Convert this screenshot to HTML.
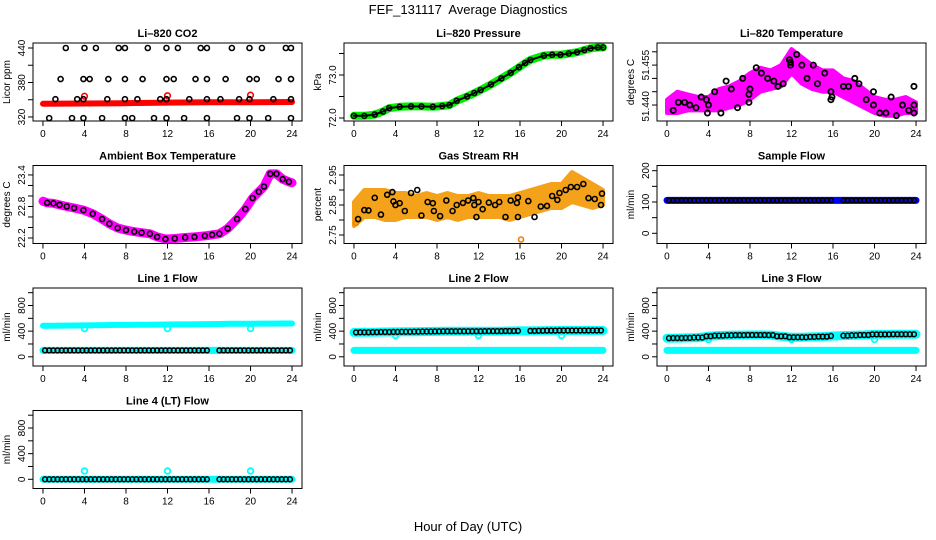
<!DOCTYPE html>
<html><head><meta charset="utf-8">
<style>
html,body{margin:0;padding:0;background:#fff;}
svg{display:block;font-family:"Liberation Sans",sans-serif;}
</style></head>
<body>
<svg id="chart" width="936" height="540" viewBox="0 0 936 540">
<text x="468" y="14" text-anchor="middle" font-size="13" style="white-space:pre">FEF_131117  Average Diagnostics</text>
<text x="468" y="531" text-anchor="middle" font-size="13">Hour of Day (UTC)</text>
</svg>
<script>
// ---------- data arrays ----------
const xTicks = [0,4,8,12,16,20,24];
// CO2
const co2Hi = [2.2,4,5.1,7.3,7.9,10.1,11.9,13,15.2,15.8,18.2,19.9,21.1,23.4,23.9];
const co2Mid = [1.7,3.9,4.5,6.3,7.9,9.6,11.9,12.6,14.7,15.8,17.6,19.9,20.6,22.7,23.9];
const co2Low = [1.2,3.3,3.9,6.2,7.9,9.1,11.3,11.9,14.1,15.8,17.1,18.9,19.9,22.2,23.9];
const co2Min = [0.6,2.8,3.9,5.7,7.9,8.6,10.7,11.9,13.6,15.8,18.7,19.9,21.7,23.9];
const co2Levels = [440,386,351,318];
const co2RedHours = [0,4,8,12,16,20,24];
const co2RedVals = [343,343.5,344,345,345.5,345.5,346];
const co2RedOutHours = [4,12,20];
const co2RedOutVals = [356,357,358];
// Pressure
const presHours = [0,1,2,2.8,3.4,4.4,5.5,6.5,7.6,8.5,9.2,9.9,10.9,11.6,12.2,13.2,14.2,15.1,15.9,16.5,17.0,18.3,19.1,19.9,20.7,21.5,22.2,22.8,23.5,24];
const presVals = [72.05,72.05,72.08,72.15,72.23,72.26,72.27,72.27,72.26,72.28,72.3,72.4,72.5,72.58,72.65,72.78,72.92,73.05,73.18,73.28,73.35,73.45,73.47,73.47,73.5,73.53,73.58,73.62,73.64,73.64];
// Li-820 temperature
const tempBandHours = [0,1,2,3,4,5,6,7,8,9,10,11,12,13,14,15,16,17,18,19,20,21,22,23,24];
const tempBandLo = [51.437,51.437,51.438,51.438,51.438,51.438,51.439,51.440,51.442,51.445,51.446,51.447,51.452,51.448,51.446,51.445,51.445,51.443,51.441,51.439,51.437,51.436,51.436,51.437,51.437];
const tempBandHi = [51.442,51.445,51.444,51.443,51.443,51.446,51.447,51.449,51.452,51.454,51.453,51.455,51.461,51.458,51.455,51.453,51.453,51.450,51.449,51.446,51.443,51.442,51.442,51.443,51.441];
const tempPtHours = [0.6,1.1,1.7,2.2,2.8,3.3,3.8,3.9,4.0,4.6,5.2,5.7,6.2,6.8,7.3,7.9,7.9,8.0,8.6,9.1,9.7,10.3,10.7,11.2,11.8,11.9,11.9,12.5,13.0,13.5,14.1,14.5,15.2,15.8,15.8,15.9,17.0,17.5,18.1,18.5,19.2,19.9,19.9,20.5,21.1,21.6,22.1,22.7,23.3,23.8,23.8,23.8];
const tempPtVals = [51.438,51.441,51.441,51.440,51.439,51.443,51.442,51.437,51.440,51.445,51.437,51.449,51.446,51.439,51.450,51.444,51.441,51.446,51.454,51.452,51.450,51.449,51.447,51.448,51.457,51.456,51.455,51.459,51.455,51.450,51.455,51.448,51.452,51.445,51.442,51.443,51.447,51.447,51.450,51.448,51.442,51.445,51.440,51.437,51.437,51.443,51.436,51.440,51.438,51.447,51.440,51.437];
// Ambient box temperature
const ambHours = [0,0.4,1.0,1.6,2.3,3.0,3.9,4.8,5.7,6.4,7.2,8.0,8.8,9.5,10.3,11.0,11.8,12.7,13.7,14.6,15.6,16.3,17.0,17.8,18.7,19.5,20.2,20.8,21.3,21.9,22.5,23.1,23.7,24];
const ambVals = [22.9,22.87,22.86,22.83,22.8,22.77,22.73,22.66,22.56,22.47,22.39,22.35,22.32,22.3,22.28,22.22,22.18,22.19,22.21,22.22,22.24,22.26,22.28,22.38,22.56,22.75,22.96,23.08,23.18,23.42,23.42,23.32,23.27,23.25];
// Gas stream RH
const rhBandHours = tempBandHours;
const rhBandLo = [2.78,2.81,2.81,2.80,2.80,2.81,2.81,2.81,2.80,2.81,2.80,2.81,2.81,2.81,2.81,2.80,2.81,2.82,2.83,2.84,2.84,2.86,2.85,2.84,2.85];
const rhBandHi = [2.86,2.90,2.90,2.90,2.89,2.89,2.88,2.89,2.88,2.89,2.88,2.88,2.89,2.88,2.88,2.88,2.89,2.90,2.91,2.92,2.92,2.96,2.94,2.92,2.90];
const rhPtHours = [0.4,1.0,1.4,2.0,2.6,3.2,3.7,3.8,4.0,4.4,4.9,5.5,6.1,6.5,7.1,7.6,7.7,8.3,8.9,9.5,9.9,10.5,11.0,11.5,11.6,11.8,12.0,12.4,13.0,13.6,14.0,14.6,15.1,15.7,15.8,15.8,16.8,17.4,18.0,18.6,19.1,19.6,19.8,20.4,20.9,21.5,22.1,22.6,23.2,23.8,23.9];
const rhPtVals = [2.803,2.833,2.832,2.874,2.818,2.884,2.893,2.862,2.85,2.856,2.83,2.89,2.90,2.815,2.86,2.856,2.83,2.813,2.865,2.83,2.85,2.857,2.865,2.873,2.85,2.81,2.86,2.836,2.858,2.85,2.86,2.81,2.865,2.857,2.81,2.875,2.863,2.81,2.845,2.847,2.88,2.867,2.89,2.90,2.91,2.91,2.92,2.873,2.87,2.85,2.888];
const rhLowOutHours = [0.2,16.1];
const rhLowOutVals = [2.79,2.735];
// Flows (hourly values 0..24)
const sampleFlow = [105,105,105,105,105,105,105,105,105,105,105,105,105,105,105,105,105,105,105,105,105,105,105,105,105];
const line1Upper = [485,485,487,488,490,492,495,497,498,500,500,502,503,505,505,507,510,512,515,515,515,517,518,520,520];
const line1Black = [100,100,100,100,100,100,100,100,100,100,100,100,100,100,100,100,100,100,100,100,100,100,100,100,100];
const line1Low = [100,100,100,100,100,100,100,100,100,100,100,100,100,100,100,100,100,100,100,100,100,100,100,100,100];
const line2Black = [380,382,384,386,388,390,392,394,396,398,398,398,398,400,400,402,404,404,406,408,410,410,410,410,410];
const line2Low = line1Low;
const line3Black = [290,292,295,300,320,330,335,338,340,340,338,320,305,305,310,315,325,330,335,340,350,350,352,352,352];
const line3Low = line1Low;
const line4Black = [0,0,0,0,0,0,0,0,0,0,0,0,0,0,0,0,0,0,0,0,0,0,0,0,0];
const outlierHours = [4,12,20];
const line1Out = [440,440,440];
const line2Out = [330,330,330];
const line3Out = [270,270,270];
const line4Out = [130,130,130];
const blackGap = [16.2,16.8];

// ---------- helpers ----------
const NS = "http://www.w3.org/2000/svg";
const svg = document.getElementById("chart");
function mk(tag, attrs, parent){
  const e = document.createElementNS(NS, tag);
  for (const k in attrs) e.setAttribute(k, attrs[k]);
  (parent||svg).appendChild(e);
  return e;
}
const colLeft = [33, 344, 657];
const rowTop = [43, 165.5, 288, 410.5];
const BW = 269, BH = 78;

function yLabel(col, y, s, name){
  const l = mk("text", {x:0,y:0,"text-anchor":"middle","font-size":10,transform:`translate(${colLeft[col]-8},${y}) rotate(-90)`}, svg);
  l.textContent = s;
  
  
}

function makePanel(name, col, row, title, ylab, vBot, vTop, ticks, labels){
  const L = colLeft[col], T = rowTop[row];
  const g = mk("g", {});
  
  
  const xs = h => L + (h + 0.96) / 25.92 * BW;
  const ys = v => T + BH - (v - vBot) / (vTop - vBot) * BH;
  const t = mk("text", {x: L + BW/2, y: T - 6, "text-anchor": "middle", "font-size": 11, "font-weight": "bold"}, g);
  t.textContent = title;
  
  
  const yl = mk("text", {x: 0, y: 0, "text-anchor": "middle", "font-size": 10, transform: `translate(${L-23},${T+BH/2}) rotate(-90)`}, g);
  yl.textContent = ylab;
  
  
  ticks.forEach(v => {
    const y = ys(v);
    mk("line", {x1: L-5, x2: L, y1: y, y2: y, stroke: "#000", "stroke-width": 1}, g);
  });
  labels.forEach(v => yLabel(col, ys(v), String(v), name + '-y-tick-label'));
  mk("line", {x1: xs(0), x2: xs(24), y1: T+BH, y2: T+BH, stroke: "#000"}, g);
  xTicks.forEach(h => {
    mk("line", {x1: xs(h), x2: xs(h), y1: T+BH, y2: T+BH+5, stroke: "#000"}, g);
    const lab = mk("text", {x: xs(h), y: T+BH+16, "text-anchor": "middle", "font-size": 10}, g);
    lab.textContent = h;
    
    
  });
  const box = mk("rect", {x: L, y: T, width: BW, height: BH, fill: "none", stroke: "#000", "stroke-width": 1}, g);
  
  
  const pg = mk("g", {}, g);
  
  
  return {g: pg, xs, ys, col};
}
function pts(p, hours, vals, color, r, sw, name){
  hours.forEach((h,i) => {
    const c = mk("circle", {cx: p.xs(h), cy: p.ys(vals[i]), r: r||2.5, fill: "none", stroke: color, "stroke-width": sw||1.6}, p.g);
    
    
  });
}
function line(p, hours, vals, color, w, name){
  const d = hours.map((h,i) => (i?"L":"M") + p.xs(h).toFixed(1) + "," + p.ys(vals[i]).toFixed(1)).join("");
  const e = mk("path", {d, fill: "none", stroke: color, "stroke-width": w, "stroke-linejoin": "round", "stroke-linecap": "round"}, p.g);
  
  
}
function band(p, hours, lo, hi, color, name){
  let d = hours.map((h,i) => (i?"L":"M") + p.xs(h).toFixed(1) + "," + p.ys(hi[i]).toFixed(1)).join("");
  for (let i = hours.length-1; i >= 0; i--) d += "L" + p.xs(hours[i]).toFixed(1) + "," + p.ys(lo[i]).toFixed(1);
  d += "Z";
  const e = mk("path", {d, fill: color, stroke: color, "stroke-width": 4, "stroke-linejoin": "round"}, p.g);
  
  
}
function stepPts(p, vals, color, step, name, gap){
  for (let h = 0.2; h <= 23.9; h += step){
    if (gap && h > gap[0] && h < gap[1]) continue;
    const v = vals[Math.round(h)];
    const c = mk("circle", {cx: p.xs(h), cy: p.ys(v), r: 2.4, fill: "none", stroke: color, "stroke-width": 1.5}, p.g);
    
    
  }
}
const hrs = tempBandHours;

// ---------- panels ----------
let p = makePanel("co2", 0, 0, "Li\u2013820 CO2", "Licor ppm", 313, 448.7, [320,350,380,410,440], [320,380,440]);
line(p, co2RedHours, co2RedVals, "#ff0000", 6, "co2-red-series");
pts(p, co2RedOutHours, co2RedOutVals, "#ff0000", 2.8, 1.6, "co2-red-outlier");
[co2Hi, co2Mid, co2Low, co2Min].forEach((arr, k) => pts(p, arr, arr.map(() => co2Levels[k]), "#000", 2.5, 1.6, "co2-black-point"));

p = makePanel("pressure", 1, 0, "Li\u2013820 Pressure", "kPa", 71.93, 73.744, [72.0,72.5,73.0,73.5], []);
line(p, presHours, presVals, "#00ee00", 8, "pressure-green-series");
line(p, presHours, presVals, "#000", 2, "pressure-black-line");
pts(p, presHours, presVals, "#000", 2.5, 1.5, "pressure-black-point");
yLabel(1, p.ys(72.0), "72.0", "pressure-y-tick-label");
yLabel(1, p.ys(73.0), "73.0", "pressure-y-tick-label");

p = makePanel("li820-temp", 2, 0, "Li\u2013820 Temperature", "degrees C", 51.434, 51.4633, [51.440,51.445,51.450,51.455,51.460], []);
band(p, tempBandHours, tempBandLo, tempBandHi, "#ff00ff", "temp-magenta-cloud");
pts(p, tempPtHours, tempPtVals, "#000", 2.6, 1.8, "temp-black-point");
yLabel(2, p.ys(51.4395), "51.440", "temp-y-tick-label");
yLabel(2, p.ys(51.455), "51.455", "temp-y-tick-label");

p = makePanel("ambient", 0, 1, "Ambient Box Temperature", "degrees C", 22.095, 23.58, [22.2,22.4,22.6,22.8,23.0,23.2,23.4], []);
line(p, ambHours, ambVals, "#ff00ff", 9, "ambient-magenta-series");
pts(p, ambHours.slice(1,-1), ambVals.slice(1,-1), "#000", 2.5, 1.6, "ambient-black-point");
yLabel(0, p.ys(22.2), "22.2", "ambient-y-tick-label");
yLabel(0, p.ys(22.8), "22.8", "ambient-y-tick-label");
yLabel(0, p.ys(23.4), "23.4", "ambient-y-tick-label");

p = makePanel("rh", 1, 1, "Gas Stream RH", "percent", 2.7217, 2.9817, [2.75,2.80,2.85,2.90,2.95], []);
band(p, rhBandHours, rhBandLo, rhBandHi, "#f4a21a", "rh-orange-cloud");
pts(p, rhLowOutHours, rhLowOutVals, "#f08000", 2.5, 1.6, "rh-orange-outlier");
pts(p, rhPtHours, rhPtVals, "#000", 2.5, 1.6, "rh-black-point");
yLabel(1, p.ys(2.75), "2.75", "rh-y-tick-label");
yLabel(1, p.ys(2.85), "2.85", "rh-y-tick-label");
yLabel(1, p.ys(2.95), "2.95", "rh-y-tick-label");

p = makePanel("sample-flow", 2, 1, "Sample Flow", "ml/min", -32.6, 216.6, [0,50,100,150,200], [0,100,200]);
line(p, hrs, sampleFlow, "#0000ff", 7, "sample-blue-series");
stepPts(p, sampleFlow, "#000", 0.4, "sample-black-point", blackGap);

const flowTicks = [0,200,400,600,800,1000], flowLabels = [0,400,800];
p = makePanel("line1-flow", 0, 2, "Line 1 Flow", "ml/min", -143.5, 1073, flowTicks, flowLabels);
line(p, hrs, line1Upper, "#00ffff", 6, "line1-cyan-upper");
line(p, hrs, line1Low, "#00ffff", 7, "line1-cyan-lower");
pts(p, outlierHours, line1Out, "#00ffff", 2.8, 1.8, "line1-cyan-outlier");
stepPts(p, line1Black, "#000", 0.4, "line1-black-point", blackGap);

p = makePanel("line2-flow", 1, 2, "Line 2 Flow", "ml/min", -143.5, 1073, flowTicks, flowLabels);
line(p, hrs, line2Black, "#00ffff", 9, "line2-cyan-upper");
line(p, hrs, line2Low, "#00ffff", 7, "line2-cyan-lower");
pts(p, outlierHours, line2Out, "#00ffff", 2.8, 1.8, "line2-cyan-outlier");
stepPts(p, line2Black, "#000", 0.4, "line2-black-point", blackGap);

p = makePanel("line3-flow", 2, 2, "Line 3 Flow", "ml/min", -143.5, 1073, flowTicks, flowLabels);
line(p, hrs, line3Black, "#00ffff", 9, "line3-cyan-upper");
line(p, hrs, line3Low, "#00ffff", 7, "line3-cyan-lower");
pts(p, outlierHours, line3Out, "#00ffff", 2.8, 1.8, "line3-cyan-outlier");
stepPts(p, line3Black, "#000", 0.4, "line3-black-point", blackGap);

p = makePanel("line4-flow", 0, 3, "Line 4 (LT) Flow", "ml/min", -143.5, 1073, flowTicks, flowLabels);
line(p, hrs, line4Black, "#00ffff", 7, "line4-cyan-series");
pts(p, outlierHours, line4Out, "#00ffff", 2.8, 1.8, "line4-cyan-outlier");
stepPts(p, line4Black, "#000", 0.4, "line4-black-point", blackGap);
</script>
</body></html>
